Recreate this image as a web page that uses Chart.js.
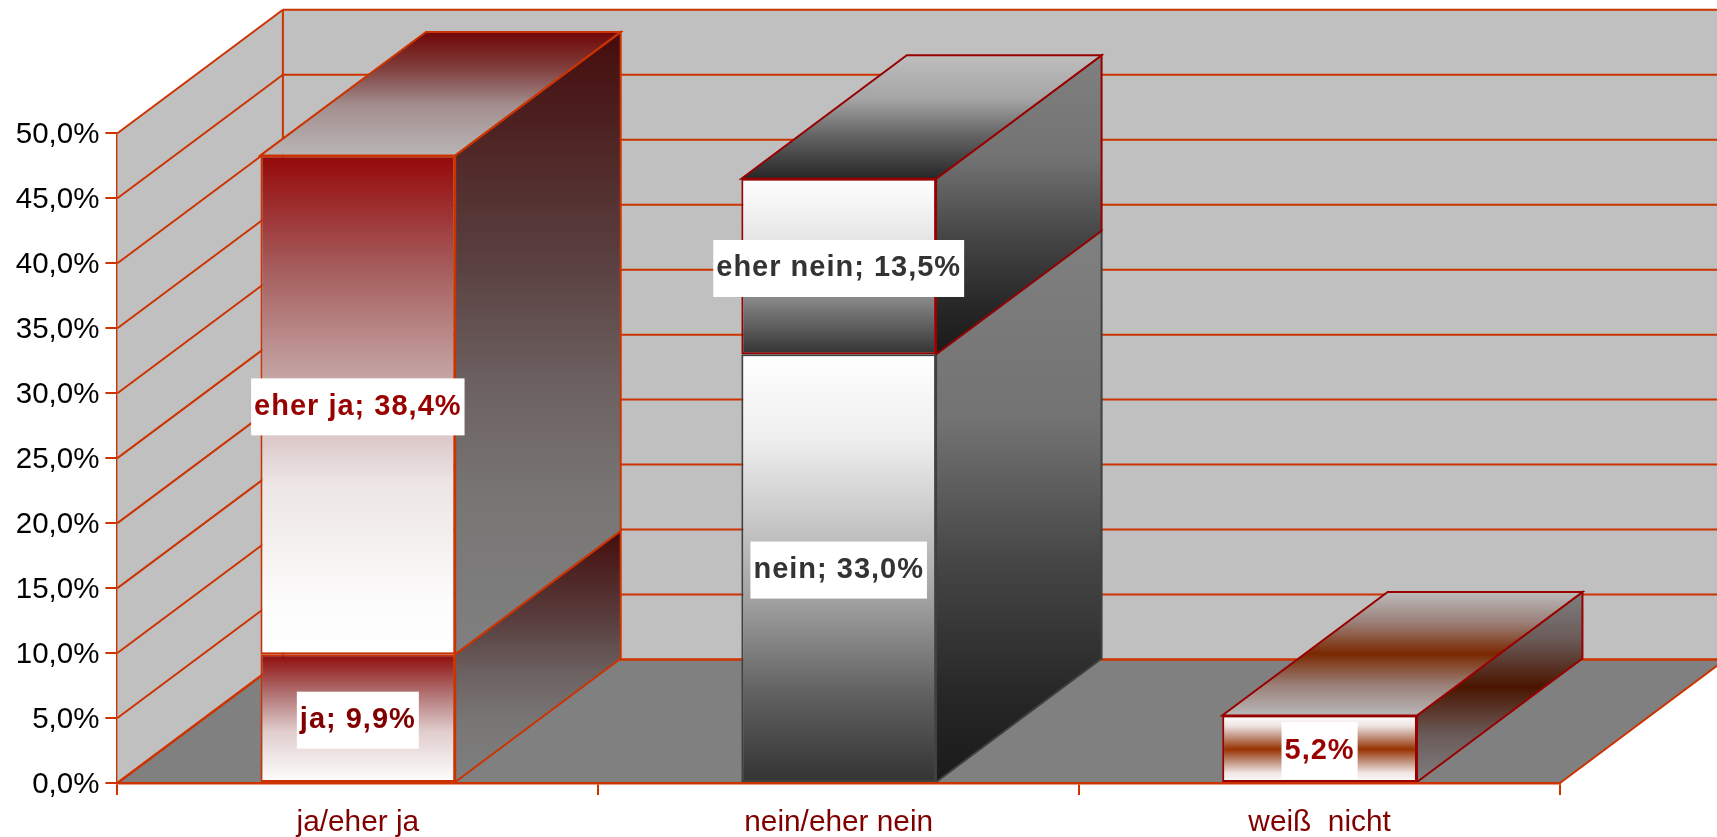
<!DOCTYPE html>
<html>
<head>
<meta charset="utf-8">
<style>
  html, body { margin: 0; padding: 0; background: #fff; overflow: hidden; }
  canvas { display: block; }
</style>
<script src="https://cdn.jsdelivr.net/npm/chart.js@4"></script>
</head>
<body>
<canvas id="bar" width="1717" height="837"></canvas>
<script>
const categories = ['ja/eher ja', 'nein/eher nein', 'weiß  nicht'];
const seriesNames = ['ja', 'eher ja', 'nein', 'eher nein', ''];
const jaValues = [9.9, null, null];
const eherJaValues = [38.4, null, null];
const neinValues = [null, 33.0, null];
const eherNeinValues = [null, 13.5, null];
const weissNichtValues = [null, null, 5.2];
const allValues = [jaValues, eherJaValues, neinValues, eherNeinValues, weissNichtValues];

const wallLine = '#cc3300';
const depthX = 165.5;
const depthY = 123.5;

const redSide = [[0, '#450c0c'], [0.37, '#5a4040'], [0.56, '#6c6060'], [0.75, '#787675'], [1, '#808080']];
const greySide = [[0, '#808080'], [0.34, '#737373'], [0.6, '#464646'], [0.85, '#262626'], [1, '#1a1a1a']];

const faces = [
  { line: wallLine, textColor: '#800000',
    front: [[0, '#900a0a'], [0.29, '#af6e6e'], [0.6, '#e1cdcd'], [1, '#ffffff']],
    side: redSide },
  { line: wallLine, textColor: '#990000',
    front: [[0, '#960808'], [0.22, '#a55a5a'], [0.44, '#c5a3a3'], [0.66, '#ede5e5'], [0.9, '#fdfcfc'], [1, '#ffffff']],
    side: redSide,
    top: [[0, '#700606'], [0.3, '#80403f'], [0.6, '#a48f8f'], [1, '#b8b6b5']] },
  { line: '#404040', textColor: '#333333',
    front: [[0, '#ffffff'], [0.2, '#eeeeee'], [0.44, '#bdbdbd'], [0.58, '#9f9f9f'], [0.78, '#646464'], [1, '#333333']],
    side: greySide },
  { line: '#990000', textColor: '#333333',
    front: [[0, '#ffffff'], [0.34, '#e6e6e6'], [0.69, '#868686'], [1, '#333333']],
    side: greySide,
    top: [[0, '#bebebe'], [0.35, '#a5a5a5'], [0.65, '#646464'], [1, '#262626']] },
  { line: '#990000', textColor: '#990000',
    front: [[0, '#ffffff'], [0.15, '#efe6e4'], [0.32, '#c08f7c'], [0.5, '#993300'], [0.68, '#c08f7c'], [0.85, '#efe6e4'], [1, '#ffffff']],
    side: [[0, '#808080'], [0.25, '#6a5a58'], [0.5, '#4a1500'], [0.75, '#6a5a58'], [1, '#808080']],
    top: [[0, '#bcbcbc'], [0.25, '#9a7f78'], [0.5, '#7a2800'], [0.75, '#9a7f78'], [1, '#b8b8b8']] }
];

function makeGradient(ctx, y1, y2, stops) {
  const g = ctx.createLinearGradient(0, y1, 0, y2);
  stops.forEach(s => g.addColorStop(s[0], s[1]));
  return g;
}

function polygon(ctx, pts, fill, line, width) {
  ctx.beginPath();
  pts.forEach((p, i) => i ? ctx.lineTo(p[0], p[1]) : ctx.moveTo(p[0], p[1]));
  ctx.closePath();
  if (fill) { ctx.fillStyle = fill; ctx.fill(); }
  if (line) { ctx.strokeStyle = line; ctx.lineWidth = width; ctx.lineJoin = 'miter'; ctx.stroke(); }
}

function segment(ctx, x1, y1, x2, y2, width) {
  ctx.beginPath();
  ctx.moveTo(x1, y1);
  ctx.lineTo(x2, y2);
  ctx.strokeStyle = wallLine;
  ctx.lineWidth = width;
  ctx.stroke();
}

function fmt(v) {
  return v.toFixed(1).replace('.', ',') + '%';
}

// front face gradient, needs the stack position of the segment
function frontColor(c) {
  const y = c.chart.scales.y;
  if (!y || c.dataIndex === undefined) return 'transparent';
  let low = 0;
  for (let d = 0; d < c.datasetIndex; d++) low += allValues[d][c.dataIndex] || 0;
  const high = low + (allValues[c.datasetIndex][c.dataIndex] || 0);
  const y1 = y.getPixelForValue(high);
  const y2 = y.getPixelForValue(low);
  if (!isFinite(y1) || !isFinite(y2)) return 'transparent';
  return makeGradient(c.chart.ctx, y1, y2 + 0.01, faces[c.datasetIndex].front);
}

const room = {
  id: 'room',
  beforeDatasetsDraw(chart) {
    const ctx = chart.ctx;
    const a = chart.chartArea;
    const y = chart.scales.y;
    ctx.save();
    // back wall, left wall, floor
    polygon(ctx, [[a.left + depthX, a.top - depthY], [a.right + depthX, a.top - depthY], [a.right + depthX, a.bottom - depthY], [a.left + depthX, a.bottom - depthY]], '#c0c0c0');
    polygon(ctx, [[a.left, a.top], [a.left + depthX, a.top - depthY], [a.left + depthX, a.bottom - depthY], [a.left, a.bottom]], '#c0c0c0');
    polygon(ctx, [[a.left, a.bottom], [a.left + depthX, a.bottom - depthY], [a.right + depthX, a.bottom - depthY], [a.right, a.bottom]], '#808080');
    y.ticks.forEach(t => {
      const py = y.getPixelForValue(t.value);
      const w = t.value === 0 ? 2.6 : 2;
      segment(ctx, a.left, py, a.left + depthX, py - depthY, w);
      segment(ctx, a.left + depthX, py - depthY, a.right + depthX, py - depthY, w);
    });
    segment(ctx, a.left + depthX, a.top - depthY, a.left + depthX, a.bottom - depthY, 2);
    segment(ctx, a.right, a.bottom, a.right + depthX, a.bottom - depthY, 2);

    // side and top faces of the bars, the front comes from chart.js
    chart.data.datasets.forEach((ds, d) => {
      const face = faces[d];
      chart.getDatasetMeta(d).data.forEach((el, i) => {
        if (ds.data[i] === null) return;
        const r = el.x + el.width / 2;
        const l = el.x - el.width / 2;
        polygon(ctx, [[r, el.y], [r + depthX, el.y - depthY], [r + depthX, el.base - depthY], [r, el.base]],
          makeGradient(ctx, el.y - depthY, el.base, face.side), face.line, 2);
        if (face.top) {
          polygon(ctx, [[l, el.y], [l + depthX, el.y - depthY], [r + depthX, el.y - depthY], [r, el.y]],
            makeGradient(ctx, el.y - depthY, el.y, face.top), face.line, 2);
        }
      });
    });
    ctx.restore();
  },
  afterDatasetsDraw(chart) {
    const ctx = chart.ctx;
    ctx.save();
    ctx.font = 'bold 29px "Liberation Sans"';
    ctx.letterSpacing = '1px';
    ctx.textAlign = 'center';
    ctx.textBaseline = 'middle';
    chart.data.datasets.forEach((ds, d) => {
      chart.getDatasetMeta(d).data.forEach((el, i) => {
        if (ds.data[i] === null) return;
        const text = (seriesNames[d] ? seriesNames[d] + '; ' : '') + fmt(ds.data[i]);
        const w = ctx.measureText(text).width + 6;
        const cy = (el.y + el.base) / 2 + 2;
        ctx.fillStyle = '#ffffff';
        ctx.fillRect(el.x - w / 2, cy - 28.5, w, 57);
        ctx.fillStyle = faces[d].textColor;
        ctx.fillText(text, el.x, cy);
      });
    });
    ctx.restore();
  }
};

new Chart(document.getElementById('bar').getContext('2d'), {
  type: 'bar',
  data: {
    labels: categories,
    datasets: allValues.map((values, d) => ({
      label: seriesNames[d] || 'weiß nicht',
      data: values,
      backgroundColor: frontColor,
      borderColor: faces[d].line,
      borderWidth: 2,
      borderSkipped: false,
      categoryPercentage: 0.405,
      barPercentage: 1
    }))
  },
  plugins: [room],
  options: {
    responsive: false,
    animation: false,
    layout: { padding: { top: 133.3, right: 157, left: 0, bottom: 0 } },
    plugins: { legend: { display: false }, tooltip: { enabled: false } },
    scales: {
      x: {
        stacked: true,
        offset: true,
        afterFit: s => { s.height = 54; },
        grid: { offset: true, drawOnChartArea: false, color: wallLine, lineWidth: 2, tickLength: 12 },
        border: { color: wallLine, width: 2.6, z: 1 },
        ticks: { color: '#800000', padding: 10, maxRotation: 0, font: { family: 'Liberation Sans', size: 29.8 } }
      },
      y: {
        stacked: true,
        min: 0,
        max: 50,
        afterFit: s => { s.width = 117.4; },
        grid: { drawOnChartArea: false, color: wallLine, lineWidth: 2, tickLength: 12 },
        border: { color: wallLine, width: 2 },
        ticks: { stepSize: 5, color: '#000000', padding: 6, labelOffset: 2, font: { family: 'Liberation Sans', size: 29.5 }, callback: v => fmt(v) }
      }
    }
  }
});
</script>
</body>
</html>
